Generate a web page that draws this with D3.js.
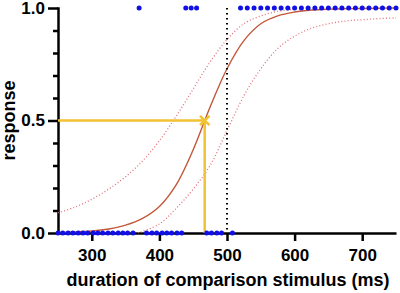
<!DOCTYPE html>
<html>
<head>
<meta charset="utf-8" />
<title>psychometric fit</title>
<script src="https://d3js.org/d3.v7.min.js"></script>
<style type="text/css">
body { margin: 0; background: #fff; }
text { font-family: "Liberation Sans", Arial, sans-serif; font-weight: bold; }
</style>
</head>
<body>
<div id="svg"></div>
<script type="text/javascript">
var width = 400,
    height = 293;

// trials answered "longer" (response 1) and "shorter" (response 0), in ms
var topDur = [370, 439, 447, 455, 520, 530, 540, 550, 560, 570, 580, 590, 600, 610, 620,
              630, 640, 650, 660, 670, 680, 690, 700, 710, 720, 730, 740, 750];
var bottomDur = [250, 257, 265, 272, 280, 287, 294, 302, 309, 316, 324, 331, 339, 346, 353, 361,
                 381, 389, 396, 404, 411, 418, 426, 433, 470, 477, 485, 492, 508];

// fitted curve and confidence bands
var fitX = [250, 275, 300, 325, 350, 375, 400, 425, 450, 475, 500, 525, 550, 575, 600, 625, 650, 675, 700, 725, 750];
var fitY = [0.003, 0.005, 0.009, 0.018, 0.035, 0.065, 0.118, 0.215, 0.37, 0.56, 0.73, 0.855, 0.93, 0.965, 0.982, 0.991, 0.995, 0.997, 0.998, 0.999, 1.0];
var upperX = [250, 275, 300, 325, 350, 375, 400, 425, 450, 475, 500, 525, 550, 575, 600];
var upperY = [0.09, 0.115, 0.15, 0.195, 0.25, 0.32, 0.41, 0.52, 0.64, 0.76, 0.86, 0.93, 0.965, 0.985, 0.995];
var lowerX = [368, 400, 425, 450, 475, 500, 525, 550, 575, 600, 625, 650, 675, 700, 725, 750];
var lowerY = [0.0, 0.04, 0.11, 0.195, 0.30, 0.455, 0.61, 0.73, 0.82, 0.875, 0.91, 0.93, 0.942, 0.948, 0.953, 0.956];

var pse = 467;          // point of subjective equality
var standard = 500;     // standard duration

var xTicks = [300, 400, 500, 600, 700];
var yMajor = [0, 0.5, 1.0];
var yMinor = [0.1, 0.2, 0.3, 0.4, 0.6, 0.7, 0.8, 0.9];

var svg = d3.select("#svg")
    .append("svg")
    .attr("width", width)
    .attr("height", height);

var x = d3.scaleLinear().domain([250, 750]).range([58, 396]);
var y = d3.scaleLinear().domain([0, 1]).range([233, 8]);

// axes
var gX = svg.append("g")
    .attr("transform", "translate(0," + y(0) + ")")
    .call(d3.axisBottom(x).tickValues(xTicks).tickSize(8).tickSizeOuter(0).tickPadding(8));

var gYm = svg.append("g")
    .attr("transform", "translate(" + x(250) + ",0)")
    .call(d3.axisLeft(y).tickValues(yMinor).tickSize(5).tickFormat(""));

var gY = svg.append("g")
    .attr("transform", "translate(" + x(250) + ",0)")
    .call(d3.axisLeft(y).tickValues(yMajor).tickSize(10).tickSizeOuter(0).tickPadding(3).tickFormat(d3.format(".1f")));

[gX, gY, gYm].forEach(function(g) {
    g.selectAll("path, line").attr("stroke", "#000").attr("stroke-width", 2.5);
    g.selectAll("text").attr("fill", "#000").style("font-size", "17px");
});
gYm.select(".domain").remove();
gY.select(".domain").attr("stroke-linecap", "square");

// curves
var line = d3.line()
    .x(d => x(d[0]))
    .y(d => y(d[1]))
    .curve(d3.curveCatmullRom);

svg.append("path")
    .datum(d3.zip(upperX, upperY))
    .attr("d", line)
    .attr("fill", "none")
    .attr("stroke", "#e2707a")
    .attr("stroke-width", 1.3)
    .attr("stroke-dasharray", "1,2.2");

svg.append("path")
    .datum(d3.zip(lowerX, lowerY))
    .attr("d", line)
    .attr("fill", "none")
    .attr("stroke", "#e2707a")
    .attr("stroke-width", 1.3)
    .attr("stroke-dasharray", "1,2.2");

svg.append("path")
    .datum(d3.zip(fitX, fitY))
    .attr("d", line)
    .attr("fill", "none")
    .attr("stroke", "#c4573a")
    .attr("stroke-width", 1.4);

// standard duration marker
svg.append("line")
    .attr("x1", x(standard)).attr("x2", x(standard))
    .attr("y1", y(1)).attr("y2", y(0))
    .attr("stroke", "#000")
    .attr("stroke-width", 2)
    .attr("stroke-dasharray", "1.5,3.5");

// PSE lines
var yellow = "#f2c232";
svg.append("line")
    .attr("x1", x(250)).attr("x2", x(pse))
    .attr("y1", y(0.5)).attr("y2", y(0.5))
    .attr("stroke", yellow).attr("stroke-width", 2.5);
svg.append("line")
    .attr("x1", x(pse)).attr("x2", x(pse))
    .attr("y1", y(0.5)).attr("y2", y(0))
    .attr("stroke", yellow).attr("stroke-width", 2.5);
svg.append("path")
    .attr("d", d3.symbol(d3.symbolX, 60))
    .attr("transform", "translate(" + x(pse) + "," + y(0.5) + ")")
    .attr("fill", "none")
    .attr("stroke", yellow)
    .attr("stroke-width", 2.5);

// trial dots
svg.selectAll(".top")
    .data(topDur)
    .enter()
    .append("circle")
    .attr("cx", d => x(d))
    .attr("cy", y(1))
    .attr("r", 2.5)
    .attr("fill", "#1010e6");

svg.selectAll(".bottom")
    .data(bottomDur)
    .enter()
    .append("circle")
    .attr("cx", d => x(d))
    .attr("cy", y(0))
    .attr("r", 2.5)
    .attr("fill", "#1010e6");

// axis titles
svg.append("text")
    .attr("x", 228)
    .attr("y", 286)
    .attr("text-anchor", "middle")
    .style("font-size", "18px")
    .text("duration of comparison stimulus (ms)");

svg.append("text")
    .attr("transform", "translate(15," + y(0.5) + ") rotate(-90)")
    .attr("text-anchor", "middle")
    .style("font-size", "18px")
    .text("response");
</script>
</body>
</html>
